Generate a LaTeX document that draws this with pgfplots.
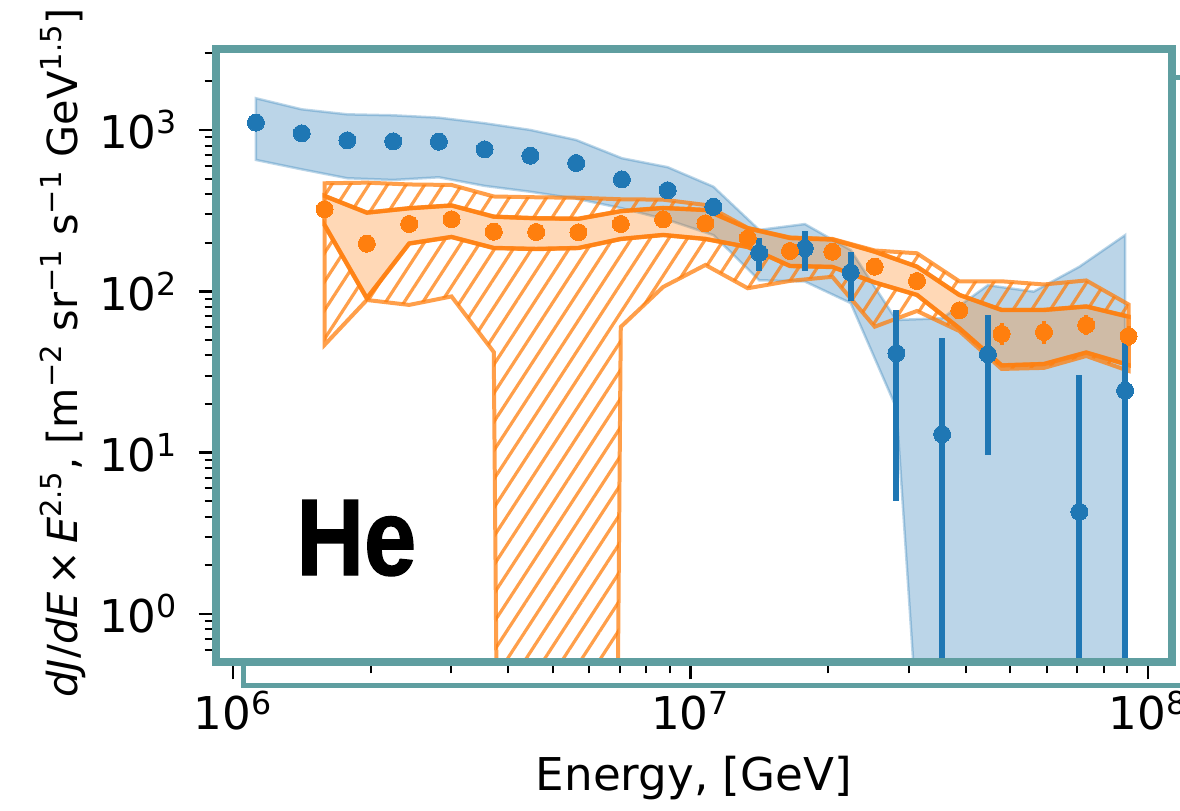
\documentclass[border=0pt]{standalone}
\usepackage{pgfplots}
\pgfplotsset{compat=1.18}
\usepackage{fontspec}
\setmainfont{DejaVu Sans}
\newfontfamily\hefont[FakeStretch=0.86, FakeBold=1.2]{Liberation Sans}
\usetikzlibrary{patterns.meta}
\definecolor{mblue}{HTML}{1F77B4}
\definecolor{morange}{HTML}{FF7F0E}
\definecolor{cadet}{HTML}{5F9EA0}
\newcommand{\pw}[1]{10\textsuperscript{#1}}
\begin{document}
\fontsize{22.6}{27}\selectfont
\begin{tikzpicture}
\path[use as bounding box] (0,0) rectangle (590pt,405pt);
% offset frame behind
\begin{axis}[at={(121.5pt,62pt)}, anchor=south west, scale only axis,
  width=478.5pt, height=304pt, xmin=0, xmax=1, ymin=0, ymax=1,
  ticks=none, axis line style={draw=cadet, line width=2.5pt}]
\end{axis}
\begin{axis}[at={(108pt,74pt)}, anchor=south west, scale only axis,
  width=477.75pt, height=306.25pt,
  xmode=log, ymode=log, xmin=9.18e5, xmax=1.1256e8, ymin=0.503, ymax=3155,
  axis line style={draw=cadet, line width=4pt},
  axis background/.style={fill=white},
  axis on top,
  tick align=outside, xtick pos=bottom, ytick pos=left,
  xtick={1e6,1e7,1e8}, xticklabels={\pw{6},\pw{7},\pw{8}},
  minor xtick={2e6,3e6,4e6,5e6,6e6,7e6,8e6,9e6,2e7,3e7,4e7,5e7,6e7,7e7,8e7,9e7},
  ytick={1,10,100,1000}, yticklabels={\pw{0},\pw{1},\pw{2},\pw{3}},
  minor ytick={0.6,0.7,0.8,0.9,2,3,4,5,6,7,8,9,20,30,40,50,60,70,80,90,200,300,400,500,600,700,800,900,2000,3000},
  major tick length=8.75pt, minor tick length=5.75pt,
  major tick style={black, line width=1.25pt},
  minor tick style={black, line width=1pt},
  xticklabel style={anchor=base, yshift=-25.25pt},
  yticklabel style={anchor=east, xshift=-2.75pt},
  xlabel={Energy, [GeV]},
  xlabel style={at={(rel axis cs:0.5,-0.209)}, anchor=base},
  ylabel={\fontsize{20.7}{25}\selectfont\textit{dJ}/\textit{dE}\,×\,\textit{E}\textsuperscript{2.5}, [m\textsuperscript{−2} sr\textsuperscript{−1} s\textsuperscript{−1} GeV\textsuperscript{1.5}]},
  ylabel style={at={(rel axis cs:-0.1455,0.505)}, anchor=base},
]
% blue band
\addplot[fill=mblue, fill opacity=0.3, draw=mblue, draw opacity=0.3, line width=1.25pt] coordinates {
(1.122e6,1573) (1.413e6,1343) (1.778e6,1250) (2.239e6,1233) (2.818e6,1192)
(3.548e6,1101) (4.467e6,1000) (5.623e6,867) (7.079e6,668) (8.913e6,588)
(1.122e7,445) (1.413e7,240) (1.778e7,261) (2.239e7,180) (2.818e7,66.4)
(3.548e7,68) (4.467e7,109) (5.623e7,99.5) (7.079e7,142) (8.913e7,223)
(8.913e7,0.001) (7.079e7,0.001) (5.623e7,0.001) (4.467e7,0.001) (3.548e7,0.001)
(2.818e7,18.9) (2.239e7,84.5) (1.778e7,115) (1.413e7,117) (1.122e7,223)
(8.913e6,277) (7.079e6,327) (5.623e6,375) (4.467e6,414) (3.548e6,450)
(2.818e6,509) (2.239e6,490) (1.778e6,502) (1.413e6,570) (1.122e6,652)
} -- cycle;
% hatched upper sys band
\addplot[pattern={Lines[angle=57,distance=7.8pt,line width=1.6pt]}, pattern color=morange, draw=morange, draw opacity=0.75, line width=2pt] coordinates {
(1.585e6,467.3) (1.961e6,471.3) (2.427e6,459.4) (3.003e6,456.1) (3.715e6,387.0)
(4.597e6,382.6) (5.689e6,379.9) (7.040e6,371.9) (8.710e6,369.8) (1.078e7,342.8)
(1.334e7,246.8) (1.650e7,215.6) (2.042e7,211.0) (2.527e7,179.0) (3.126e7,172.0)
(3.869e7,115.3) (4.786e7,115.3) (5.923e7,110.2) (7.328e7,116.7) (9.068e7,82.8)
(9.068e7,69.6) (7.328e7,80.5) (5.923e7,76.6) (4.786e7,76.6) (3.869e7,94.9)
(3.126e7,142.1) (2.527e7,176.0) (2.042e7,209.4) (1.650e7,214.0) (1.334e7,245.8)
(1.078e7,319.2) (8.710e6,328.5) (7.040e6,313.8) (5.689e6,281.5) (4.597e6,283.5)
(3.715e6,290.1) (3.003e6,340.4) (2.427e6,327.1) (1.961e6,307.2) (1.585e6,389.8)
} -- cycle;
% hatched lower sys band
\addplot[pattern={Lines[angle=57,distance=7.8pt,line width=1.6pt]}, pattern color=morange, draw=morange, draw opacity=0.75, line width=2pt] coordinates {
(1.585e6,257.6) (1.961e6,90.5) (2.427e6,197.8) (3.003e6,217.1) (3.715e6,185.5)
(4.597e6,182.9) (5.689e6,185.5) (7.040e6,211.0) (8.710e6,223.4) (1.078e7,211.0)
(1.334e7,188.2) (1.650e7,143.5) (2.042e7,141.5) (2.527e7,113.4) (3.126e7,94.9)
(3.869e7,59.0) (4.786e7,34.7) (5.923e7,35.4) (7.328e7,41.7) (9.068e7,34.9)
(9.068e7,32.1) (7.328e7,39.7) (5.923e7,33.5) (4.786e7,33.0) (3.869e7,56.7)
(3.126e7,75.5) (2.527e7,60.3) (2.042e7,123) (1.650e7,116) (1.334e7,104.4)
(1.078e7,145.6) (8.710e6,106.3) (7.040e6,60.1) (5.689e6,1e-30) (4.597e6,1e-30)
(3.715e6,42.0) (3.003e6,92.9) (2.427e6,82.3) (1.961e6,88.3) (1.585e6,46.5)
} -- cycle;
% orange stat band
\addplot[fill=morange, fill opacity=0.3, draw=morange, draw opacity=0.8, line width=2.2pt] coordinates {
(1.585e6,389.8) (1.961e6,307.2) (2.427e6,327.1) (3.003e6,340.4) (3.715e6,290.1)
(4.597e6,283.5) (5.689e6,281.5) (7.040e6,313.8) (8.710e6,328.5) (1.078e7,319.2)
(1.334e7,245.8) (1.650e7,214.0) (2.042e7,209.4) (2.527e7,176.0) (3.126e7,142.1)
(3.869e7,94.9) (4.786e7,76.6) (5.923e7,76.6) (7.328e7,80.5) (9.068e7,69.6)
(9.068e7,34.9) (7.328e7,41.7) (5.923e7,35.4) (4.786e7,34.7) (3.869e7,59.0)
(3.126e7,94.9) (2.527e7,113.4) (2.042e7,141.5) (1.650e7,143.5) (1.334e7,188.2)
(1.078e7,211.0) (8.710e6,223.4) (7.040e6,211.0) (5.689e6,185.5) (4.597e6,182.9)
(3.715e6,185.5) (3.003e6,217.1) (2.427e6,197.8) (1.961e6,90.5) (1.585e6,257.6)
} -- cycle;
% blue points
\addplot[color=mblue, only marks, mark=*, mark size=4.25pt, mark options={draw=mblue, fill=mblue, line width=0pt},
  error bars/.cd, y dir=both, y explicit, error mark=none,
  error bar style={line width=3pt, mblue}]
table[x=x, y=y, y error plus=ep, y error minus=em] {
x y ep em
1.122e6 1110 0 0
1.413e6 954 0 0
1.778e6 863 0 0
2.239e6 851 0 0
2.818e6 846 0 0
3.548e6 759 0 0
4.467e6 693 0 0
5.623e6 624 0 0
7.079e6 494 0 0
8.913e6 423 0 0
1.122e7 334 44 41
1.413e7 173 40 39
1.778e7 185 52 51
2.239e7 131 45 43.5
2.818e7 41.3 35.2 36.3
3.548e7 13.0 38.2 12.9
4.467e7 40.7 30.6 31.0
7.079e7 4.29 26.0 4.19
8.913e7 24.2 25.8 24.1
};
% orange points
\addplot[color=morange, only marks, mark=*, mark size=4.25pt, mark options={draw=morange, fill=morange, line width=0pt},
  error bars/.cd, y dir=both, y explicit, error mark=none,
  error bar style={line width=2pt, morange}]
table[x=x, y=y, y error plus=ep, y error minus=em] {
x y ep em
1.585e6 322.5 0 0
1.961e6 197.3 0 0
2.427e6 261.4 0 0
3.003e6 279.5 0 0
3.715e6 234.2 0 0
4.597e6 233.2 0 0
5.689e6 232.2 0 0
7.040e6 261.4 0 0
8.710e6 279.5 0 0
1.078e7 264.0 0 0
1.334e7 213.1 0 0
1.650e7 177.8 0 0
2.042e7 176.0 0 0
2.527e7 142.1 0 0
3.126e7 115.8 0 0
3.869e7 76.2 0 0
4.786e7 54.4 9.2 7.9
5.923e7 55.9 9.4 8.6
7.328e7 61.8 9.0 8.3
9.068e7 52.8 8.0 7.3
};
\node[anchor=base west, inner sep=0pt, font=\hefont\bfseries\fontsize{54.5}{60}\selectfont] at (rel axis cs:0.0837,0.142) {He};
\end{axis}
\end{tikzpicture}
\end{document}
